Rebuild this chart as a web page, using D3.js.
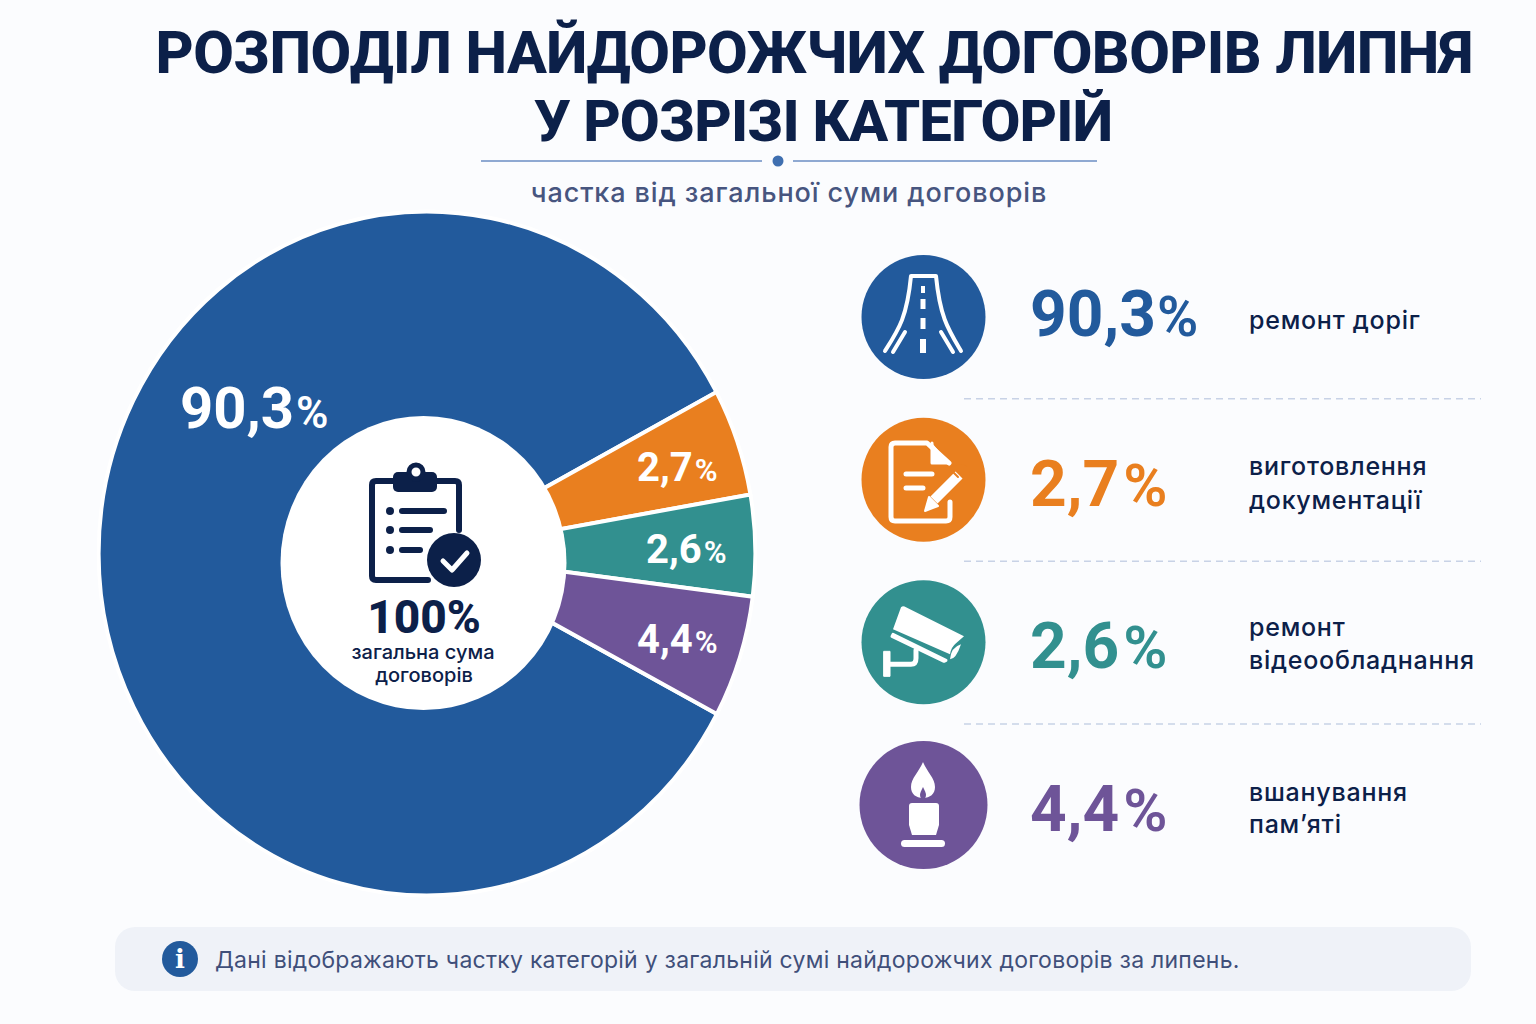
<!DOCTYPE html>
<html lang="uk">
<head>
<meta charset="utf-8">
<title>Розподіл найдорожчих договорів липня</title>
<script src="https://cdn.jsdelivr.net/npm/d3@7"></script>
<style>
  html, body { margin: 0; padding: 0; background: #fbfcfe; }
  svg { display: block; }
  text { font-family: Inter, Roboto, "Noto Sans", sans-serif; }
  .big { font-family: Roboto, Inter, sans-serif; }
</style>
</head>
<body>
<div id="chart"></div>
<script>
// data
const categories = ["ремонт доріг", "виготовлення документації", "ремонт відеообладнання", "вшанування пам’яті"];
const categoryLines = [["ремонт доріг"], ["виготовлення", "документації"], ["ремонт", "відеообладнання"], ["вшанування", "пам’яті"]];
const values = [90.3, 2.7, 2.6, 4.4];
// the picture does not draw the wedges to scale, these are the shares as measured off the wedge angles
const drawnShares = [84.4, 5.06, 4.78, 5.76];
const colors = ["#225a9c", "#e97f1f", "#32908f", "#6e5498"];

const titleLines = ["РОЗПОДІЛ НАЙДОРОЖЧИХ ДОГОВОРІВ ЛИПНЯ", "У РОЗРІЗІ КАТЕГОРІЙ"];
const subtitle = "частка від загальної суми договорів";
const footnote = "Дані відображають частку категорій у загальній сумі найдорожчих договорів за липень.";
const centerLines = ["100%", "загальна сума", "договорів"];

// layout
const navy = "#0c2049";
const width = 1536, height = 1024;
const pieX = 427, pieY = 553.5, pieR = 342, pieScaleX = 0.96;
const holeX = 423.5, holeY = 563, holeRx = 143, holeRy = 147;
const sliceLabels = [[180, 428, 58, 44], [637, 481, 40, 31], [646, 563, 40, 31], [637, 653, 40, 31]];
const numberDy = [19, 26, 26, 26];
const labelY = [[329], [475, 509], [636, 669], [801, 833]];
const iconR = [62, 62, 62, 64];

const fmt = d3.formatLocale({ decimal: ",", thousands: " ", grouping: [3], currency: ["", ""] }).format(".1f");

const svg = d3.select("#chart").append("svg")
  .attr("width", width)
  .attr("height", height)
  .attr("viewBox", [0, 0, width, height]);

svg.append("rect").attr("width", width).attr("height", height).attr("fill", "#fbfcfe");

// title block
svg.selectAll(".title")
  .data(titleLines)
  .enter()
  .append("text")
  .attr("class", "title big")
  .attr("x", (d, i) => i == 0 ? 814 : 823)
  .attr("y", (d, i) => 73 + i * 67.5)
  .attr("text-anchor", "middle")
  .attr("font-size", (d, i) => i == 0 ? 59 : 58)
  .attr("font-weight", 800)
  .attr("letter-spacing", (d, i) => i == 0 ? -0.6 : -0.9)
  .attr("fill", navy)
  .text(d => d);

svg.append("line").attr("x1", 481).attr("x2", 762).attr("y1", 161).attr("y2", 161).attr("stroke", "#8fa9d2").attr("stroke-width", 2);
svg.append("line").attr("x1", 793).attr("x2", 1097).attr("y1", 161).attr("y2", 161).attr("stroke", "#8fa9d2").attr("stroke-width", 2);
svg.append("circle").attr("cx", 778).attr("cy", 161).attr("r", 5.5).attr("fill", "#3f6fb0");

svg.append("text")
  .attr("x", 789)
  .attr("y", 202)
  .attr("text-anchor", "middle")
  .attr("font-size", 27)
  .attr("font-weight", 500)
  .attr("letter-spacing", 0.9)
  .attr("fill", "#47557f")
  .text(subtitle);

// pie
const pie = d3.pie()
  .sort(null)
  .value(d => d)
  .startAngle(118 * Math.PI / 180)
  .endAngle(478 * Math.PI / 180);

const arc = d3.arc().innerRadius(0).outerRadius(pieR);

const chart = svg.append("g")
  .attr("transform", "translate(" + pieX + "," + pieY + ") scale(" + pieScaleX + ",1)");

chart.selectAll("path")
  .data(pie(drawnShares))
  .enter()
  .append("path")
  .attr("d", arc)
  .attr("fill", (d, i) => colors[i])
  .attr("stroke", "#fff")
  .attr("stroke-width", 4);

svg.append("ellipse").attr("cx", holeX).attr("cy", holeY).attr("rx", holeRx).attr("ry", holeRy).attr("fill", "#fff");

function percentText(sel, size, pctSize, value, gap) {
  sel.append("tspan").attr("font-size", size).text(fmt(value));
  sel.append("tspan").attr("font-size", pctSize).attr("font-weight", 600).attr("dx", gap).text("%");
}

svg.selectAll(".sliceLabel")
  .data(values)
  .enter()
  .append("text")
  .attr("class", "sliceLabel big")
  .attr("x", (d, i) => sliceLabels[i][0])
  .attr("y", (d, i) => sliceLabels[i][1])
  .attr("fill", "#fff")
  .attr("font-weight", 700)
  .each(function(d, i) { percentText(d3.select(this), sliceLabels[i][2], sliceLabels[i][3], d, 2); });

// centre of the pie
const clip = svg.append("g").attr("fill", "none").attr("stroke", navy);
clip.append("path")
  .attr("d", "M393 481H376Q372 481 372 485V576Q372 580 376 580H428M459 530V485Q459 481 455 481H437")
  .attr("stroke-width", 6).attr("stroke-linecap", "round");
clip.append("rect").attr("x", 393).attr("y", 472).attr("width", 44).attr("height", 20).attr("rx", 5).attr("fill", navy).attr("stroke", "none");
clip.append("circle").attr("cx", 416).attr("cy", 472).attr("r", 7).attr("stroke-width", 5).attr("fill", "#fff");
[[511, 446], [530, 432], [550, 422]].forEach(function(r) {
  clip.append("circle").attr("cx", 390).attr("cy", r[0]).attr("r", 4).attr("fill", navy).attr("stroke", "none");
  clip.append("line").attr("x1", 402).attr("x2", r[1] - 2).attr("y1", r[0]).attr("y2", r[0]).attr("stroke-width", 6).attr("stroke-linecap", "round");
});
clip.append("circle").attr("cx", 454).attr("cy", 560).attr("r", 27).attr("fill", navy).attr("stroke", "none");
clip.append("path").attr("d", "M443 561L452 570L467 553").attr("stroke", "#fff").attr("stroke-width", 5).attr("stroke-linecap", "round").attr("stroke-linejoin", "round");

svg.append("text").attr("class", "big").attr("x", 424).attr("y", 633).attr("text-anchor", "middle")
  .attr("font-size", 46).attr("font-weight", 800).attr("fill", navy).text(centerLines[0]);
svg.append("text").attr("x", 423).attr("y", 659).attr("text-anchor", "middle")
  .attr("font-size", 20).attr("font-weight", 500).attr("fill", navy).text(centerLines[1]);
svg.append("text").attr("x", 424).attr("y", 682).attr("text-anchor", "middle")
  .attr("font-size", 20).attr("font-weight", 500).attr("fill", navy).text(centerLines[2]);

// right hand list
const rowY = d3.scalePoint().domain(categories).range([317, 805]);

const rows = svg.selectAll(".row")
  .data(categories)
  .enter()
  .append("g")
  .attr("class", "row");

rows.append("circle")
  .attr("cx", 923.5)
  .attr("cy", d => rowY(d))
  .attr("r", (d, i) => iconR[i])
  .attr("fill", (d, i) => colors[i]);

rows.append("text")
  .attr("class", "big")
  .attr("x", 1030)
  .attr("y", (d, i) => rowY(d) + numberDy[i])
  .attr("fill", (d, i) => colors[i])
  .attr("font-weight", 700)
  .each(function(d, i) { percentText(d3.select(this), 64, i == 0 ? 56 : 60, values[i], i == 0 ? 1 : 4); });

rows.each(function(d, i) {
  d3.select(this).selectAll(".catLabel")
    .data(categoryLines[i])
    .enter()
    .append("text")
    .attr("class", "catLabel")
    .attr("x", 1249)
    .attr("y", (t, j) => labelY[i][j])
    .attr("font-size", 25)
    .attr("font-weight", 500)
    .attr("letter-spacing", 0.75)
    .attr("fill", navy)
    .text(t => t);
});

svg.selectAll(".sep")
  .data(categories.slice(1))
  .enter()
  .append("line")
  .attr("class", "sep")
  .attr("x1", 964)
  .attr("x2", 1481)
  .attr("y1", d => rowY(d) - 81)
  .attr("y2", d => rowY(d) - 81)
  .attr("stroke", "#c8d2e6")
  .attr("stroke-width", 1.5)
  .attr("stroke-dasharray", "7 5");

// icons
function icon(i) {
  return svg.append("g")
    .attr("transform", "translate(923," + rowY(categories[i]) + ")")
    .attr("fill", "none")
    .attr("stroke", "#fff")
    .attr("stroke-linecap", "round")
    .attr("stroke-linejoin", "round");
}

const road = icon(0).attr("stroke-width", 4);
road.append("path").attr("d", "M-38 34C-24 12 -16 0 -12 -41H13C17 0 25 12 38 34");
road.append("path").attr("d", "M-18 15L-30 35M18 15L30 35");
[[-31, -24, 4], [-18, -8, 5], [1, 12, 5], [22, 36, 6]].forEach(function(r) {
  road.append("rect").attr("x", -r[2] / 2).attr("y", r[0]).attr("width", r[2]).attr("height", r[1] - r[0]).attr("fill", "#fff").attr("stroke", "none");
});

const doc = icon(1).attr("stroke-width", 5).attr("transform", "translate(923,480)");
doc.append("path").attr("d", "M26 -17L4 -37H-28Q-32 -37 -32 -33V37Q-32 41 -28 41H23Q27 41 27 37V22");
doc.append("path").attr("d", "M9 -37V-17H26").attr("stroke-width", 3).attr("fill", "#fff");
doc.append("path").attr("d", "M-17 -6H9M-17 8H0");
doc.append("path").attr("d", "M10 22L38 -7").attr("stroke", colors[1]).attr("stroke-width", 18);
doc.append("path").attr("d", "M11 20L36 -5").attr("stroke-width", 10).attr("stroke-linecap", "butt");
doc.append("path").attr("d", "M29 -9L35 -3").attr("stroke", colors[1]).attr("stroke-width", 2);
doc.append("path").attr("d", "M2 31L6 17L15 26Z").attr("fill", "#fff").attr("stroke-width", 2);

const cam = icon(2).attr("stroke", "none").attr("fill", "#fff");
cam.append("path").attr("d", "M-22 -35Q-20 -37 -17 -35L41 -6L33 1Q28 5 27 12L-30 -13Z");
cam.append("path").attr("d", "M-30 -8L23 18L21 19L-31 -6Z").attr("stroke", "#fff").attr("stroke-width", 3);
cam.append("path").attr("d", "M38 2Q28 5 27 17Q33 17 38 2Z");
cam.append("path").attr("d", "M-39 9H-33V34H-39Z").attr("stroke", "#fff").attr("stroke-width", 1).attr("stroke-linejoin", "round");
cam.append("path").attr("d", "M-34 22H-12Q-7 22 -7 16L-7 8").attr("fill", "none").attr("stroke", "#fff").attr("stroke-width", 5);

const candle = icon(3).attr("stroke", "none").attr("fill", "#fff");
candle.append("path").attr("d", "M0 -43C4 -33 12 -27 12 -18C12 -11 7 -7 0 -7C-7 -7 -12 -11 -12 -18C-12 -27 -4 -33 0 -43Z");
candle.append("path").attr("d", "M0 -18C2 -14 3 -12 3 -10C3 -7 1 -6 0 -6C-1 -6 -3 -7 -3 -10C-3 -12 -2 -14 0 -18Z").attr("fill", colors[3]);
candle.append("path").attr("d", "M-14 1Q-14 -2 -11 -2H13Q16 -2 16 1V20L13 30H-11L-14 20Z");
candle.append("rect").attr("x", -22).attr("y", 35).attr("width", 44).attr("height", 7).attr("rx", 3.5);

// footnote
svg.append("rect")
  .attr("x", 115).attr("y", 927).attr("width", 1356).attr("height", 64).attr("rx", 20)
  .attr("fill", "#eff2f8");
svg.append("circle").attr("cx", 180).attr("cy", 959).attr("r", 18).attr("fill", "#225a9c");
svg.append("text").attr("x", 180).attr("y", 968).attr("text-anchor", "middle")
  .attr("font-size", 26).attr("font-weight", 700).attr("fill", "#fff")
  .style("font-family", "'DejaVu Serif', serif").text("i");
svg.append("text").attr("x", 215).attr("y", 968)
  .attr("font-size", 23).attr("letter-spacing", 0.25).attr("fill", "#3f4f7a").text(footnote);
</script>
</body>
</html>
